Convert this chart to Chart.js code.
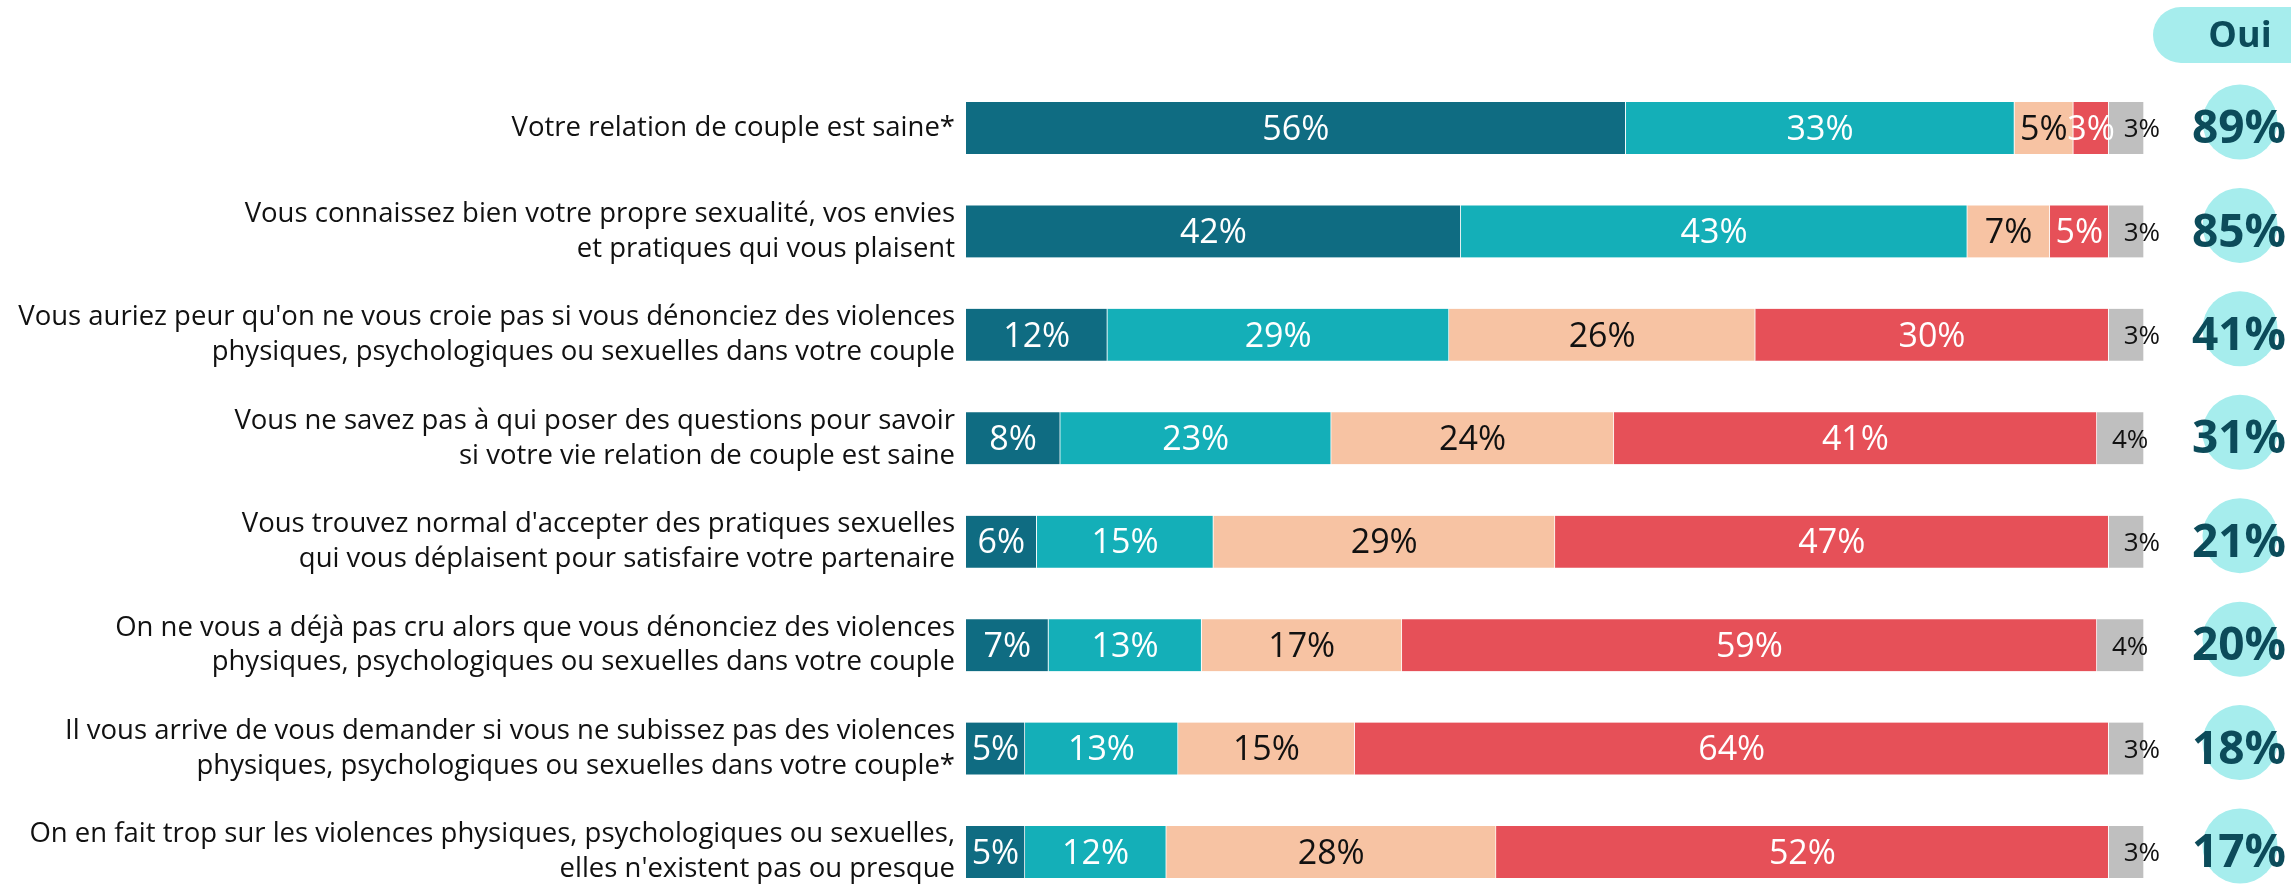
<!DOCTYPE html>
<html>
<head>
<meta charset="utf-8">
<script src="https://cdn.jsdelivr.net/npm/chart.js@4/dist/chart.umd.min.js"></script>
<style>
  body { margin: 0; background: #fff; }
  canvas { display: block; }
</style>
</head>
<body>
<canvas id="myChart" width="2291" height="884"></canvas>
<script>
const labels = [
  'Votre relation de couple est saine*',
  ['Vous connaissez bien votre propre sexualité, vos envies', 'et pratiques qui vous plaisent'],
  ["Vous auriez peur qu'on ne vous croie pas si vous dénonciez des violences", 'physiques, psychologiques ou sexuelles dans votre couple'],
  ['Vous ne savez pas à qui poser des questions pour savoir', 'si votre vie relation de couple est saine'],
  ["Vous trouvez normal d'accepter des pratiques sexuelles", 'qui vous déplaisent pour satisfaire votre partenaire'],
  ['On ne vous a déjà pas cru alors que vous dénonciez des violences', 'physiques, psychologiques ou sexuelles dans votre couple'],
  ['Il vous arrive de vous demander si vous ne subissez pas des violences', 'physiques, psychologiques ou sexuelles dans votre couple*'],
  ['On en fait trop sur les violences physiques, psychologiques ou sexuelles,', "elles n'existent pas ou presque"],
];

const toutAFait = [56, 42, 12, 8, 6, 7, 5, 5];
const plutotOui = [33, 43, 29, 23, 15, 13, 13, 12];
const plutotNon = [5, 7, 26, 24, 29, 17, 15, 28];
const pasDuTout = [3, 5, 30, 41, 47, 59, 64, 52];
const nsp = [3, 3, 3, 4, 3, 4, 3, 3];
const ouiTotals = [89, 85, 41, 31, 21, 20, 18, 17];

const FONT = "'Open Sans', 'Noto Sans', sans-serif";

// texte dans les barres
const barLabels = {
  id: 'barLabels',
  afterDatasetsDraw(chart) {
    const ctx = chart.ctx;
    ctx.save();
    ctx.textBaseline = 'middle';
    chart.data.datasets.forEach((ds, i) => {
      const meta = chart.getDatasetMeta(i);
      meta.data.forEach((bar, j) => {
        const txt = ds.data[j] + '%';
        ctx.fillStyle = ds.textColor;
        if (i === 4) {
          ctx.font = '26px ' + FONT;
          ctx.textAlign = 'left';
          ctx.fillText(txt, bar.base + 15, bar.y + 2);
        } else {
          ctx.font = '34px ' + FONT;
          ctx.textAlign = 'center';
          ctx.fillText(txt, (bar.x + bar.base) / 2, bar.y + 2);
        }
      });
    });
    ctx.restore();
  },
};

// colonne "Oui" à droite
const ouiColumn = {
  id: 'ouiColumn',
  afterDraw(chart) {
    const ctx = chart.ctx;
    const yScale = chart.scales.y;
    const cx = 2240;
    ctx.save();
    ctx.fillStyle = '#A6EDED';
    ctx.beginPath();
    ctx.roundRect(2153, 7, 200, 56, 28);
    ctx.fill();
    ctx.fillStyle = '#0C4B5A';
    ctx.font = 'bold 36px ' + FONT;
    ctx.textAlign = 'center';
    ctx.textBaseline = 'middle';
    ctx.fillText('Oui', cx, 37);

    ouiTotals.forEach((v, i) => {
      const y = yScale.getPixelForValue(i);
      ctx.fillStyle = '#A6EDED';
      ctx.beginPath();
      ctx.arc(cx, y - 6, 37.5, 0, Math.PI * 2);
      ctx.fill();
      ctx.fillStyle = '#0C4B5A';
      ctx.font = 'bold 46px ' + FONT;
      ctx.fillText(v + '%', cx - 1, y + 2);
    });
    ctx.restore();
  },
};

const makeSet = (label, data, color, textColor) => ({
  label,
  data,
  backgroundColor: color,
  borderColor: 'rgba(255,255,255,0.7)',
  borderWidth: { right: 1 },
  borderSkipped: false,
  barThickness: 52,
  clip: false,
  textColor,
});

new Chart(document.getElementById('myChart'), {
  type: 'bar',
  data: {
    labels,
    datasets: [
      makeSet("Oui, tout à fait", toutAFait, '#0F6C82', '#FFFFFF'),
      makeSet('Oui, plutôt', plutotOui, '#14AFB8', '#FFFFFF'),
      makeSet('Non, plutôt pas', plutotNon, '#F7C3A3', '#111111'),
      makeSet('Non, pas du tout', pasDuTout, '#E65058', '#FFFFFF'),
      makeSet('Ne sait pas', nsp, '#BFBFBF', '#111111'),
    ],
  },
  options: {
    indexAxis: 'y',
    responsive: false,
    animation: false,
    layout: {
      padding: { top: 128, bottom: 32, right: 147, left: 0 },
    },
    plugins: {
      legend: { display: false },
      tooltip: { enabled: false },
    },
    scales: {
      x: {
        stacked: true,
        display: false,
        min: 0,
        max: 100,
        grid: { display: false },
      },
      y: {
        stacked: true,
        offset: false,
        border: { display: false },
        grid: { display: false },
        afterFit: (s) => { s.width = 966; },
        ticks: {
          padding: 3,
          color: '#111111',
          font: { family: FONT, size: 27.5, lineHeight: 1.27 },
        },
      },
    },
  },
  plugins: [barLabels, ouiColumn],
});
</script>
</body>
</html>
